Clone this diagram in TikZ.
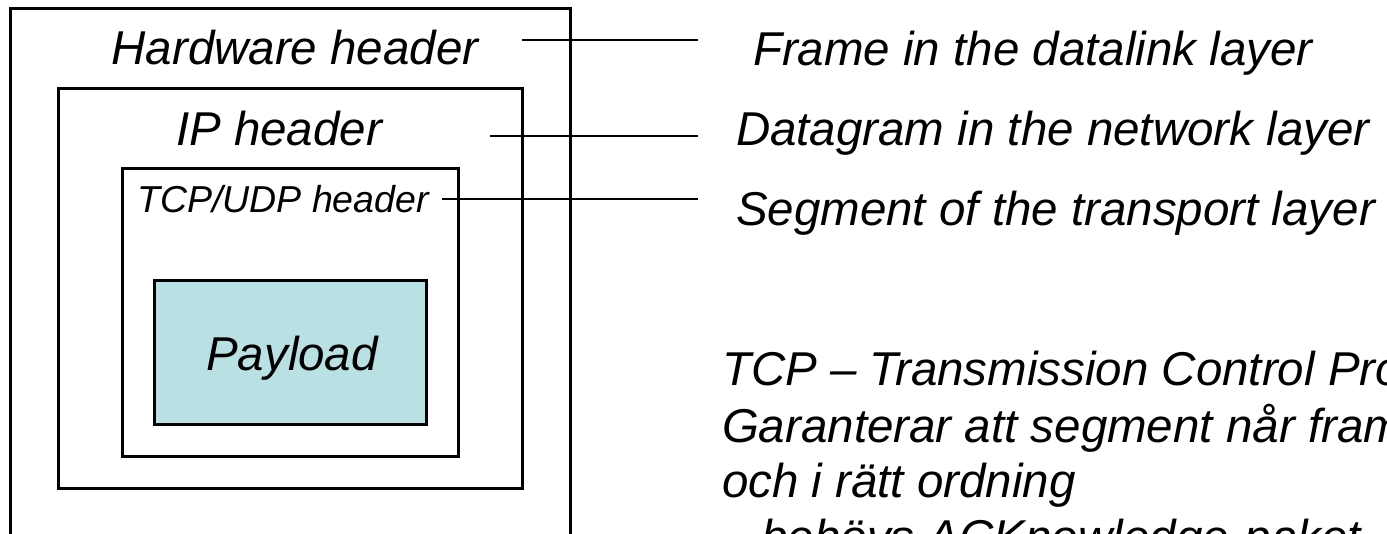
\documentclass[tikz,border=0pt]{standalone}
\usepackage{fontspec}
\setmainfont{Liberation Sans}
\definecolor{payloadfill}{RGB}{185,224,226}
\tikzset{
  layerbox/.style={draw=black, line width=3pt, rectangle, inner sep=0pt, outer sep=0pt, anchor=north west},
  bigtext/.style={font=\fontsize{47.5pt}{56pt}\selectfont\itshape, inner sep=0pt, outer sep=0pt},
  smalltext/.style={font=\fontsize{37.5pt}{45pt}\selectfont\itshape, inner sep=0pt, outer sep=0pt},
  leader/.style={draw=black, line width=2.5pt}
}
\begin{document}
\begin{tikzpicture}[x=1pt, y=-1pt]
\useasboundingbox (0,0) rectangle (1387,533);
\clip (0,0) rectangle (1387,533);
\fill[white] (0,0) rectangle (1387,533);
% boxes
\node[layerbox, minimum width=560pt, minimum height=560pt] (frame) at (10,8) {};
\node[layerbox, minimum width=464pt, minimum height=400pt] (ip) at (58,88) {};
\node[layerbox, minimum width=336pt, minimum height=288pt] (tcp) at (122,168) {};
\node[layerbox, fill=payloadfill, minimum width=272pt, minimum height=144pt] (payload) at (154,280) {};
% box labels
\node[bigtext, anchor=base] (hwtext) at (295,64) {Hardware header};
\node[bigtext, anchor=base] (iptext) at (279,145) {IP header};
\node[smalltext, anchor=base] (tcptext) at (283,212) {TCP/UDP header};
\node[bigtext, anchor=base] (paytext) at (292,370) {Payload};
% right labels
\node[bigtext, anchor=base west] (framelabel) at (753,65) {Frame in the datalink layer};
\node[bigtext, anchor=base west] (dglabel) at (736,145) {Datagram in the network layer};
\node[bigtext, anchor=base west] (seglabel) at (736,225) {Segment of the transport layer};
% leaders
\coordinate (hwA) at (522,40);
\coordinate (hwB) at (698,40);
\coordinate (ipA) at (490,136);
\coordinate (ipB) at (698,136);
\coordinate (tcpA) at (442,199);
\coordinate (tcpB) at (698,199);
\draw[leader] (hwA) -- (hwB);
\draw[leader] (ipA) -- (ipB);
\draw[leader] (tcpA) -- (tcpB);
% TCP description
\node[bigtext, anchor=base west] (desc1) at (722,385) {TCP – Transmission Control Protocol};
\node[bigtext, anchor=base west] (desc2) at (722,442) {Garanterar att segment når fram};
\node[bigtext, anchor=base west] (desc3) at (722,497) {och i rätt ordning};
\node[bigtext, anchor=base west] (desc4) at (722,553) {– behövs ACKnowledge-paket};
\end{tikzpicture}
\end{document}
